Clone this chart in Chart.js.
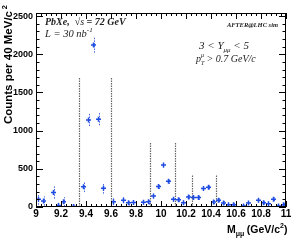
<!DOCTYPE html>
<html>
<head>
<meta charset="utf-8">
<script src="https://cdn.jsdelivr.net/npm/chart.js@4/dist/chart.umd.min.js"></script>
<style>
html,body{margin:0;padding:0;background:#fff;}
#wrap{position:relative;width:300px;height:244px;}
</style>
</head>
<body>
<div id="wrap"><canvas id="c" width="300" height="244"></canvas></div>
<script>
// ---- data ----
const massBins = [9.02,9.06,9.14,9.18,9.22,9.30,9.38,9.42,9.46,9.50,9.54,9.62,9.70,9.74,9.78,9.86,9.90,9.94,9.98,10.02,10.06,10.10,10.14,10.18,10.22,10.26,10.30,10.34,10.38,10.42,10.46,10.50,10.54,10.58,10.66,10.70,10.78,10.82,10.86,10.90,10.94,10.98];
const counts   = [100,78,190,20,68,8,265,1140,2120,1150,245,68,90,55,60,62,68,145,270,550,338,100,96,57,132,123,123,241,259,66,90,53,30,30,13,53,88,57,43,101,13,30];
const errors   = [70,60,80,50,60,30,70,80,100,80,70,45,40,35,35,35,35,35,35,35,35,30,30,30,30,30,30,30,30,30,30,25,25,25,25,25,25,25,25,25,25,25];
const windowX   = [9.345,9.60,9.915,10.115,10.25,10.44];
const windowTop = [1700,1700,840,840,425,425];
const xTickLabels = ['9','9.2','9.4','9.6','9.8','10','10.2','10.4','10.6','10.8','11'];
const yTickLabels = ['0','500','1000','1500','2000','2500'];

const BLUE = 'rgb(30,75,225)';

const deco = {
  id:'deco',
  beforeDatasetsDraw(chart){
    const {ctx, scales:{x,y}} = chart;
    ctx.save();
    // signal windows (dotted gray)
    ctx.strokeStyle = '#666';
    ctx.lineWidth = 1.2;
    ctx.setLineDash([1.5,1]);
    windowX.forEach((v,i)=>{
      const px = Math.round(x.getPixelForValue(v))+0.5;
      ctx.beginPath();
      ctx.moveTo(px, y.getPixelForValue(0));
      ctx.lineTo(px, y.getPixelForValue(windowTop[i]));
      ctx.stroke();
    });
    // error bars (dotted blue)
    ctx.strokeStyle = 'rgba(30,75,225,0.85)';
    ctx.lineWidth = 1;
    ctx.setLineDash([1.5,1.2]);
    massBins.forEach((m,i)=>{
      const px = Math.round(x.getPixelForValue(m))+0.5;
      const lo = Math.max(0, counts[i]-errors[i]);
      ctx.beginPath();
      ctx.moveTo(px, y.getPixelForValue(lo));
      ctx.lineTo(px, y.getPixelForValue(counts[i]+errors[i]));
      ctx.stroke();
    });
    ctx.restore();
  },
  afterDraw(chart){
    const {ctx, chartArea:a, scales:{x,y}} = chart;
    ctx.save();
    ctx.strokeStyle = '#000';
    ctx.lineWidth = 1;
    ctx.setLineDash([]);
    // frame
    ctx.strokeRect(a.left+0.5, a.top+0.5, a.right-a.left-1, a.bottom-a.top-1);
    // x ticks (inside, top and bottom)
    for(let k=0;k<=50;k++){
      const v = 9 + k*0.04;
      const px = Math.round(x.getPixelForValue(v))+0.5;
      const len = (k%5===0) ? 6 : 3;
      ctx.beginPath();
      ctx.moveTo(px, a.bottom); ctx.lineTo(px, a.bottom-len);
      ctx.moveTo(px, a.top); ctx.lineTo(px, a.top+len);
      ctx.stroke();
    }
    // y ticks (inside, left and right)
    for(let k=0;k<=25;k++){
      const v = k*100;
      const py = Math.round(y.getPixelForValue(v))+0.5;
      const len = (k%5===0) ? 7 : 3.5;
      ctx.beginPath();
      ctx.moveTo(a.left, py); ctx.lineTo(a.left+len, py);
      ctx.moveTo(a.right, py); ctx.lineTo(a.right-len, py);
      ctx.stroke();
    }
    // y axis title
    ctx.fillStyle = '#000';
    ctx.save();
    ctx.translate(12, 5);
    ctx.rotate(-Math.PI/2);
    ctx.font = 'bold 11.5px "Liberation Sans", Arial, sans-serif';
    ctx.textAlign = 'right';
    ctx.textBaseline = 'alphabetic';
    ctx.fillText('Counts per 40 MeV/c', -6, 0);
    ctx.font = 'bold 7.5px "Liberation Sans", Arial, sans-serif';
    ctx.fillText('2', 0, -5);
    ctx.restore();
    // x axis title: M_μμ (GeV/c²)
    const F = 10.5;
    let xx = 227, yy = 233;
    ctx.textAlign = 'left';
    ctx.font = 'bold '+F+'px "Liberation Sans", Arial, sans-serif';
    ctx.fillText('M', xx, yy); xx += ctx.measureText('M').width;
    ctx.font = 'bold 7px "Liberation Sans", Arial, sans-serif';
    ctx.fillText('μμ', xx, yy+3); xx += ctx.measureText('μμ').width + 2.5;
    ctx.font = 'bold '+F+'px "Liberation Sans", Arial, sans-serif';
    ctx.fillText('(GeV/c', xx, yy); xx += ctx.measureText('(GeV/c').width;
    ctx.font = 'bold 7px "Liberation Sans", Arial, sans-serif';
    ctx.fillText('2', xx, yy-5); xx += ctx.measureText('2').width;
    ctx.font = 'bold '+F+'px "Liberation Sans", Arial, sans-serif';
    ctx.fillText(')', xx, yy);
    // annotations
    const serif = '"Liberation Serif", "Times New Roman", serif';
    ctx.fillStyle = '#222';
    ctx.font = 'italic bold 10px ' + serif;
    let tx = 45, ty = 25;
    ctx.fillText('PbXe,', tx, ty); tx += ctx.measureText('PbXe,').width + 5;
    ctx.font = 'italic 10px ' + serif;
    ctx.fillText('\u221As', tx, ty); tx += ctx.measureText('\u221As').width;
    ctx.font = 'italic bold 10px ' + serif;
    ctx.fillText(' = 72 GeV', tx, ty);
    ctx.font = 'italic 10.5px ' + serif;
    tx = 45; ty = 37;
    ctx.fillText('L = 30 nb', tx, ty); tx += ctx.measureText('L = 30 nb').width;
    ctx.font = 'italic 7px ' + serif;
    ctx.fillText('-1', tx, ty-5);
    ctx.font = 'italic bold 6.5px ' + serif;
    ctx.textAlign = 'right';
    ctx.fillText('AFTER@LHC sim', 278, 27);
    ctx.textAlign = 'left';
    ctx.font = 'italic 11px ' + serif;
    tx = 199; ty = 49;
    ctx.fillText('3 < Y', tx, ty); tx += ctx.measureText('3 < Y').width;
    ctx.font = 'italic 7px ' + serif;
    ctx.fillText('\u03BC\u03BC', tx, ty+3); tx += ctx.measureText('\u03BC\u03BC').width;
    ctx.font = 'italic 11px ' + serif;
    ctx.fillText(' < 5', tx, ty);
    tx = 196; ty = 62;
    ctx.font = 'italic 10px ' + serif;
    ctx.fillText('p', tx, ty); tx += ctx.measureText('p').width;
    ctx.font = 'italic 6px ' + serif;
    ctx.fillText('\u03BC', tx, ty-5);
    ctx.fillText('T', tx, ty+3); tx += ctx.measureText('\u03BC').width;
    ctx.font = 'italic 10px ' + serif;
    ctx.fillText(' > 0.7 GeV/c', tx, ty);
    ctx.restore();
  }
};

new Chart(document.getElementById('c'), {
  type:'scatter',
  data:{datasets:[{
    data: massBins.map((m,i)=>({x:m, y:counts[i]})),
    pointStyle:'cross',
    pointRadius:2.5,
    pointHoverRadius:2.5,
    borderColor:BLUE,
    backgroundColor:BLUE,
    borderWidth:1.5
  }]},
  options:{
    responsive:false,
    animation:false,
    devicePixelRatio:1,
    events:[],
    layout:{padding:{top:13,right:14,left:0,bottom:0}},
    plugins:{legend:{display:false},tooltip:{enabled:false}},
    scales:{
      x:{
        type:'linear', min:9, max:11,
        grid:{display:false, drawTicks:false},
        border:{display:false},
        afterFit(s){ s.height = 37; },
        afterBuildTicks(s){ s.ticks = xTickLabels.map(t=>({value:parseFloat(t)})); },
        ticks:{
          padding:1, maxRotation:0, autoSkip:false,
          color:'#000',
          font:{family:'"Liberation Sans", Arial, sans-serif', size:10, weight:'bold'},
          callback(v){ const s = xTickLabels.find(t=>Math.abs(parseFloat(t)-v)<1e-6); return s===undefined?'':s; }
        }
      },
      y:{
        type:'linear', min:0, max:2540,
        grid:{display:false, drawTicks:false},
        border:{display:false},
        afterFit(s){ s.width = 36; },
        afterBuildTicks(s){ s.ticks = yTickLabels.map(t=>({value:parseFloat(t)})); },
        ticks:{
          padding:3, autoSkip:false,
          color:'#000',
          font:{family:'"Liberation Sans", Arial, sans-serif', size:9, weight:'bold'},
          callback(v){ const s = yTickLabels.find(t=>parseFloat(t)===v); return s===undefined?'':s; }
        }
      }
    }
  },
  plugins:[deco]
});
</script>
</body>
</html>
